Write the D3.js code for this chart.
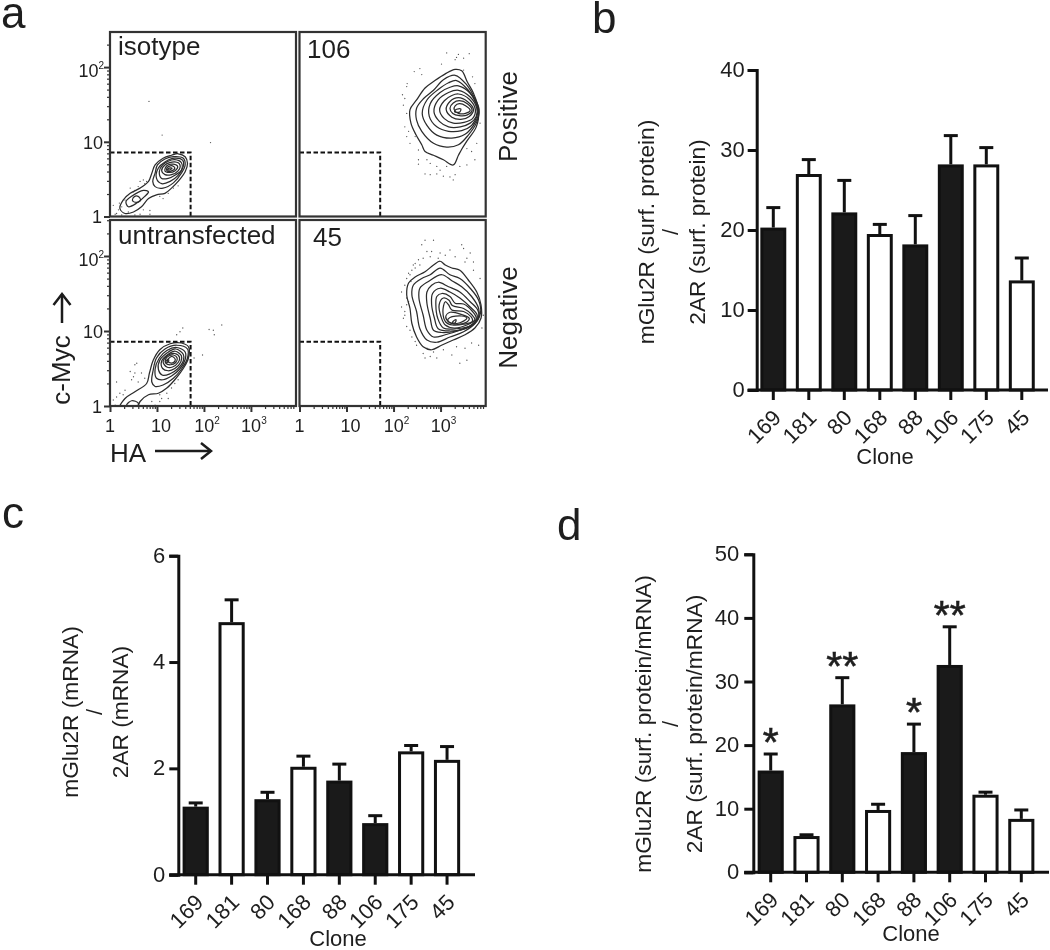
<!DOCTYPE html>
<html>
<head>
<meta charset="utf-8">
<script src="https://cdn.jsdelivr.net/npm/d3@7"></script>
<style>
html,body{margin:0;padding:0;background:#fff;}
svg{display:block;filter:blur(0.35px);}
text{font-family:"Liberation Sans",Arial,sans-serif;fill:#1e1e1e;}
</style>
</head>
<body>
<svg id="chart" width="1050" height="950"></svg>
<script>
// ---------- bar data ----------
const clones = ["169","181","80","168","88","106","175","45"];
const filledClones = ["169","80","88","106"];
const surfaceValues = [20.3,27.0,22.2,19.5,18.2,28.2,28.2,13.7];
const surfaceUpper  = [22.8,28.8,26.2,20.7,21.8,31.8,30.3,16.5];
const mrnaValues = [1.28,4.75,1.42,2.03,1.77,0.97,2.32,2.16];
const mrnaUpper  = [1.35,5.17,1.55,2.23,2.08,1.11,2.43,2.41];
const ratioValues = [16.0,5.7,26.4,9.8,18.9,32.6,12.2,8.4];
const ratioUpper  = [18.6,5.9,30.6,10.7,23.3,38.6,12.6,9.8];
const ratioStars  = ["*","","**","","*","**","",""];

// ---------- flow cytometry data: [log10 HA, log10 c-Myc] ----------
const decades = [1,10,100,1000];
const logTicks = [1,2,3,4,5,6,7,8,9,10,20,30,40,50,60,70,80,90,100,200,300,400,500,600,700,800,900,1000,2000,3000,4000,5000,6000,7000,8000];
const gate = [52,7.2];

const contoursIsotype = [
[[1.45,.84],[1.60,.80],[1.65,.71],[1.60,.60],[1.45,.47],[1.31,.38],[1.17,.31],[.99,.29],[.82,.24],[.67,.13],[.50,.06],[.32,.04],[.21,.11],[.28,.22],[.43,.31],[.64,.38],[.82,.47],[.89,.58],[.96,.69],[1.13,.78],[1.31,.82]],
[[1.35,.80],[1.56,.78],[1.60,.69],[1.52,.58],[1.35,.45],[1.13,.38],[.96,.40],[.91,.47],[.96,.58],[1.01,.69],[1.17,.77]],
[[1.38,.78],[1.55,.75],[1.56,.67],[1.45,.55],[1.28,.47],[1.10,.44],[.99,.51],[1.03,.65],[1.17,.73]],
[[1.38,.76],[1.52,.72],[1.52,.62],[1.40,.56],[1.24,.51],[1.10,.51],[1.05,.60],[1.12,.69],[1.24,.74]],
[[1.38,.73],[1.49,.69],[1.45,.61],[1.31,.56],[1.17,.56],[1.10,.61],[1.17,.69]],
[[1.35,.70],[1.44,.67],[1.38,.61],[1.26,.59],[1.17,.61],[1.21,.68]],
[[1.31,.68],[1.38,.65],[1.31,.61],[1.22,.61],[1.21,.65]],
[[1.28,.65],[1.32,.645],[1.26,.62],[1.22,.63]],
[[.46,.27],[.71,.35],[.82,.33],[.74,.27],[.57,.18],[.39,.13],[.34,.20]],
[[.51,.26],[.60,.27],[.65,.22],[.57,.19],[.48,.21]]
];
const contours106 = [
[[3.31,1.97],[3.45,1.95],[3.57,1.80],[3.70,1.65],[3.81,1.43],[3.76,1.20],[3.57,1.02],[3.45,.90],[3.38,.82],[3.27,.69],[3.06,.76],[2.85,.82],[2.67,.87],[2.60,.96],[2.48,1.09],[2.37,1.25],[2.35,1.43],[2.49,1.56],[2.67,1.72],[2.88,1.82],[3.10,1.91]],
[[3.31,1.89],[3.56,1.76],[3.73,1.58],[3.82,1.43],[3.76,1.25],[3.59,1.09],[3.38,.96],[3.13,.93],[2.85,.98],[2.60,1.14],[2.49,1.29],[2.49,1.45],[2.64,1.58],[2.85,1.69],[3.06,1.83]],
[[3.34,1.82],[3.59,1.69],[3.76,1.51],[3.81,1.40],[3.73,1.25],[3.52,1.10],[3.24,1.05],[2.92,1.09],[2.71,1.22],[2.61,1.38],[2.71,1.56],[2.95,1.70],[3.17,1.79]],
[[3.38,1.75],[3.63,1.65],[3.78,1.47],[3.78,1.36],[3.66,1.22],[3.45,1.15],[3.17,1.14],[2.92,1.20],[2.76,1.34],[2.78,1.51],[2.99,1.66],[3.20,1.73]],
[[3.38,1.69],[3.63,1.60],[3.77,1.45],[3.76,1.34],[3.63,1.25],[3.42,1.20],[3.17,1.20],[2.98,1.27],[2.86,1.40],[2.95,1.56],[3.17,1.66]],
[[3.38,1.64],[3.61,1.57],[3.74,1.43],[3.68,1.31],[3.50,1.26],[3.27,1.25],[3.08,1.31],[2.98,1.43],[3.08,1.55],[3.24,1.62]],
[[3.38,1.59],[3.57,1.54],[3.70,1.43],[3.61,1.34],[3.43,1.30],[3.24,1.33],[3.12,1.43],[3.20,1.54]],
[[3.40,1.55],[3.57,1.51],[3.67,1.42],[3.57,1.36],[3.40,1.35],[3.26,1.38],[3.20,1.45],[3.27,1.52]],
[[3.40,1.51],[3.54,1.48],[3.63,1.42],[3.53,1.38],[3.38,1.38],[3.29,1.43],[3.31,1.48]],
[[3.43,1.44],[3.32,1.43],[3.30,1.40],[3.41,1.40]]
];
const contoursUntransfected = [
[[1.52,.84],[1.67,.79],[1.67,.64],[1.56,.50],[1.38,.35],[1.21,.24],[1.03,.17],[.82,.15],[.64,.06],[.57,-.03],[.21,-.03],[.32,.10],[.53,.19],[.78,.30],[.84,.44],[.92,.61],[1.06,.75],[1.28,.83]],
[[1.42,.81],[1.65,.76],[1.65,.64],[1.52,.49],[1.35,.37],[1.13,.28],[.96,.26],[.89,.32],[.92,.48],[.99,.64],[1.17,.76]],
[[1.42,.78],[1.60,.72],[1.60,.62],[1.48,.49],[1.31,.40],[1.13,.35],[.99,.37],[.96,.49],[1.05,.64],[1.21,.74]],
[[1.40,.76],[1.56,.69],[1.56,.60],[1.43,.49],[1.28,.43],[1.12,.41],[1.03,.49],[1.06,.61],[1.22,.71]],
[[1.39,.73],[1.52,.67],[1.51,.59],[1.38,.50],[1.24,.47],[1.12,.50],[1.10,.60],[1.24,.69]],
[[1.38,.70],[1.48,.65],[1.45,.58],[1.33,.52],[1.21,.52],[1.13,.59],[1.24,.68]],
[[1.35,.68],[1.43,.64],[1.40,.58],[1.29,.55],[1.19,.57],[1.18,.62],[1.26,.67]],
[[1.32,.66],[1.39,.62],[1.35,.58],[1.26,.58],[1.22,.61]],
[[1.24,.62],[1.19,.60],[1.21,.58],[1.25,.60]],
[[.35,.01],[.46,.07],[.60,.04],[.57,-.02],[.35,-.03]]
];
const contours45 = [
[[2.99,1.93],[3.10,1.88],[3.24,1.84],[3.41,1.81],[3.59,1.68],[3.77,1.52],[3.86,1.35],[3.86,1.17],[3.73,1.04],[3.52,.95],[3.27,.88],[3.02,.81],[2.81,.75],[2.63,.79],[2.49,.92],[2.39,1.10],[2.35,1.30],[2.28,1.48],[2.32,1.64],[2.46,1.72],[2.67,1.79],[2.85,1.88]],
[[2.99,1.84],[3.20,1.75],[3.41,1.70],[3.63,1.57],[3.81,1.41],[3.85,1.24],[3.73,1.10],[3.49,.99],[3.20,.92],[2.92,.85],[2.71,.88],[2.56,1.03],[2.49,1.26],[2.39,1.48],[2.42,1.61],[2.60,1.70],[2.78,1.75]],
[[3.03,1.75],[3.24,1.67],[3.45,1.59],[3.66,1.46],[3.81,1.30],[3.81,1.19],[3.66,1.08],[3.41,1.01],[3.10,.95],[2.85,.92],[2.71,1.01],[2.63,1.21],[2.54,1.44],[2.56,1.57],[2.74,1.66]],
[[2.95,1.65],[3.17,1.59],[3.41,1.52],[3.63,1.39],[3.79,1.28],[3.81,1.17],[3.63,1.06],[3.34,1.00],[3.02,.98],[2.85,1.01],[2.78,1.17],[2.71,1.37],[2.71,1.52],[2.81,1.61]],
[[2.99,1.57],[3.20,1.52],[3.41,1.44],[3.63,1.32],[3.78,1.21],[3.72,1.10],[3.49,1.03],[3.20,1.00],[2.95,1.03],[2.87,1.17],[2.81,1.35],[2.83,1.50]],
[[3.03,1.50],[3.20,1.46],[3.31,1.37],[3.49,1.36],[3.68,1.26],[3.76,1.17],[3.63,1.07],[3.34,1.03],[3.06,1.04],[2.94,1.17],[2.90,1.35],[2.92,1.46]],
[[3.06,1.44],[3.18,1.41],[3.25,1.34],[3.49,1.30],[3.66,1.22],[3.73,1.15],[3.56,1.08],[3.29,1.04],[3.10,1.08],[3.01,1.19],[2.97,1.35]],
[[3.10,1.39],[3.17,1.35],[3.24,1.28],[3.49,1.26],[3.65,1.19],[3.68,1.13],[3.49,1.09],[3.25,1.08],[3.11,1.12],[3.05,1.26]],
[[3.20,1.25],[3.45,1.22],[3.61,1.17],[3.56,1.12],[3.34,1.09],[3.18,1.12],[3.11,1.19]],
[[3.20,1.18],[3.45,1.20],[3.56,1.17],[3.41,1.11],[3.24,1.10],[3.15,1.14]],
[[3.33,1.15],[3.27,1.13],[3.25,1.11],[3.31,1.11]]
];
const dotsIsotype = [[.83,1.54],[1.11,1.09],[2.14,.99],[.07,.15],[.14,.04],[.11,.03],[.25,.02],[.32,.0],[.39,.06],[.53,.02],[.64,.03],[.71,.09],[.85,.08],[.85,.03],[.74,.44],[.64,.47],[.60,.40],[.53,.35],[.50,.33],[.35,.27],[.32,.22],[.43,.38],[.71,.49],[.78,.47],[1.24,.31],[1.13,.24],[1.06,.27],[1.35,.38],[1.45,.41],[.20,.18],[.25,.13],[.18,.09]];
const dots106 = [[3.13,2.19],[3.31,2.10],[3.38,2.17],[3.61,2.18],[3.49,2.12],[3.34,2.13],[3.02,2.04],[2.44,1.94],[2.56,1.98],[2.60,1.90],[2.29,1.78],[2.28,1.74],[2.19,1.63],[2.24,1.58],[2.21,1.49],[2.28,1.38],[2.24,1.20],[2.32,1.14],[2.28,1.07],[2.35,.98],[2.53,.89],[2.53,.76],[2.53,.70],[2.71,.76],[2.67,.57],[2.78,.56],[2.92,.57],[3.06,.54],[3.20,.53],[3.27,.49],[3.31,.56],[3.41,.67],[3.56,.69],[3.73,.76],[3.66,.87],[3.56,.91],[3.77,.98],[3.73,1.78],[3.68,1.87],[3.49,1.96],[3.84,1.25],[2.92,.67],[2.78,.71],[2.99,.62],[3.13,.67],[2.46,1.07]];
const dotsUntransfected = [[1.55,1.04],[1.49,.99],[1.42,.95],[2.11,1.02],[2.20,1.01],[2.38,1.08],[2.22,.95],[1.97,.68],[1.79,.64],[.57,.57],[.53,.55],[.53,.44],[.43,.46],[.50,.39],[.46,.35],[.14,.32],[.32,.21],[.21,.17],[.14,.12],[.07,.08],[.11,.01],[.28,.15],[.67,.44],[.74,.37],[.60,.32],[1.06,.15],[1.21,.17],[1.31,.24],[1.38,.30],[1.45,.35],[1.06,.06],[.89,.06],[.96,.01],[1.10,.10],[1.24,.10]];
const dots45 = [[2.67,2.21],[2.85,2.21],[2.60,2.15],[2.71,2.06],[2.81,2.06],[2.99,2.04],[3.20,2.08],[3.45,2.15],[3.49,2.10],[3.63,2.04],[3.56,1.97],[3.70,1.92],[2.42,1.88],[2.53,1.95],[2.63,1.97],[2.32,1.77],[2.39,1.81],[2.46,1.84],[2.56,1.88],[2.78,1.99],[2.95,1.97],[3.10,2.01],[3.31,1.99],[3.52,1.92],[3.70,1.81],[3.84,1.70],[2.17,1.52],[2.24,1.61],[2.28,1.44],[2.17,1.32],[2.24,1.26],[2.21,1.17],[2.28,1.06],[2.35,1.01],[2.46,.86],[2.39,.92],[2.49,.81],[2.63,.70],[2.67,.64],[2.78,.66],[2.92,.64],[3.24,.68],[3.41,.57],[3.56,.61],[3.81,.81],[3.66,.84],[3.88,1.04],[3.91,1.21],[2.32,1.39],[2.28,1.35],[2.24,1.21],[2.35,1.75],[2.28,1.70],[2.37,1.66],[2.46,1.90],[2.71,.77],[2.85,.72],[3.06,.75],[3.34,.79],[3.52,.77]];

// ---------- layout ----------
const svg = d3.select("#chart");
const ink = "#1c1c1c";
const frameInk = "#333";
const xMaxLog = 3.96;

const flowPanels = [
  {id:"iso", x:[110,296], y:[216.5,32], contours:contoursIsotype, dots:dotsIsotype, label:"isotype", lx:118, ly:55, yAxis:true, xAxis:false, yMaxLog:2.47},
  {id:"c106",x:[299.5,485.7], y:[216.5,32], contours:contours106, dots:dots106, label:"106", lx:307, ly:58, yAxis:false, xAxis:false, yMaxLog:2.47},
  {id:"unt", x:[110,296], y:[406,220], contours:contoursUntransfected, dots:dotsUntransfected, label:"untransfected", lx:118, ly:244, yAxis:true, xAxis:true, yMaxLog:2.48},
  {id:"c45", x:[299.5,485.7], y:[406,220], contours:contours45, dots:dots45, label:"45", lx:313, ly:246, yAxis:false, xAxis:true, yMaxLog:2.48}
];

const defs = svg.append("defs");

function decadeLabel(sel, v){
  if (v < 100) { sel.text(String(v)); return; }
  sel.append("tspan").text("10");
  sel.append("tspan").attr("dy",-8).attr("font-size",10).text(String(Math.round(Math.log10(v))));
}

flowPanels.forEach(p => {
  const x = d3.scaleLog().domain([1,Math.pow(10,xMaxLog)]).range(p.x);
  const y = d3.scaleLog().domain([1,Math.pow(10,p.yMaxLog)]).range(p.y);
  const g = svg.append("g");
  defs.append("clipPath").attr("id","clip-"+p.id).append("rect")
    .attr("x",p.x[0]).attr("y",p.y[1]).attr("width",p.x[1]-p.x[0]).attr("height",p.y[0]-p.y[1]);
  const plot = g.append("g").attr("clip-path","url(#clip-"+p.id+")");
  plot.selectAll("circle").data(p.dots).join("circle")
    .attr("cx",d=>x(Math.pow(10,d[0]))).attr("cy",d=>y(Math.pow(10,d[1])))
    .attr("r",0.65).attr("fill","#555");
  const line = d3.line()
    .x(d=>x(Math.pow(10,d[0]))).y(d=>y(Math.pow(10,d[1])))
    .curve(d3.curveCatmullRomClosed.alpha(0.5));
  plot.selectAll("path.contour").data(p.contours).join("path")
    .attr("class","contour").attr("d",line)
    .attr("fill","none").attr("stroke","#2c2c2c").attr("stroke-width",1.25);
  const gatePath = d3.line().x(d=>x(d[0])).y(d=>y(d[1]));
  plot.append("path")
    .attr("d",gatePath([[1,gate[1]],[gate[0],gate[1]],[gate[0],1]]))
    .attr("fill","none").attr("stroke","#111").attr("stroke-width",2).attr("stroke-dasharray","4.5 2.5");
  g.append("rect").attr("x",p.x[0]).attr("y",p.y[1]).attr("width",p.x[1]-p.x[0]).attr("height",p.y[0]-p.y[1])
    .attr("fill","none").attr("stroke",frameInk).attr("stroke-width",2.2);
  g.append("text").attr("x",p.lx).attr("y",p.ly).attr("font-size",26).text(p.label);

  if (p.yAxis) {
    const yTicks = logTicks.filter(v => v <= Math.pow(10,p.yMaxLog));
    const ax = g.append("g").attr("transform","translate("+p.x[0]+",0)")
      .call(d3.axisLeft(y).tickValues(yTicks).tickSize(3).tickFormat(""));
    ax.select(".domain").remove();
    ax.selectAll(".tick line").attr("stroke",frameInk).attr("stroke-width",1.2)
      .filter(d=>decades.includes(d)).attr("x2",-6).attr("stroke-width",2);
    g.selectAll("text.ylab").data(decades.slice(0,3)).join("text").attr("class","ylab")
      .attr("x",d=>d===1?102:(d===10?103:104)).attr("y",d=>y(d)+(d===100?9.5:(d===10?7:6.5)))
      .attr("text-anchor","end").attr("font-size",18)
      .each(function(d){decadeLabel(d3.select(this),d);});
  }
  if (p.xAxis) {
    const ax = g.append("g").attr("transform","translate(0,"+p.y[0]+")")
      .call(d3.axisBottom(x).tickValues(logTicks).tickSize(3).tickFormat(""));
    ax.select(".domain").remove();
    ax.selectAll(".tick line").attr("stroke",frameInk).attr("stroke-width",1.2)
      .filter(d=>decades.includes(d)).attr("y2",6).attr("stroke-width",2);
    g.selectAll("text.xlab").data(decades).join("text").attr("class","xlab")
      .attr("x",d=>x(d)+(d===1?0:(d===10?4:3))).attr("y",432)
      .attr("text-anchor","middle").attr("font-size",18)
      .each(function(d){decadeLabel(d3.select(this),d);});
  }
});

// ---------- side and axis titles of panel a ----------
function rotatedText(x,y,txt,size){
  return svg.append("text").attr("transform","translate("+x+","+y+") rotate(-90)")
    .attr("text-anchor","middle").attr("font-size",size).text(txt);
}
rotatedText(517,116.5,"Positive",26);
rotatedText(517,317.5,"Negative",26);
rotatedText(70,370,"c-Myc",26);
svg.append("text").attr("x",110).attr("y",462).attr("font-size",26).text("HA");
const arrowLine = d3.line();
svg.append("path").attr("d",arrowLine([[62,323],[62,294]])).attr("fill","none").attr("stroke",ink).attr("stroke-width",2.5);
svg.append("path").attr("d",arrowLine([[53.5,305],[62,294],[70.5,305]])).attr("fill","none").attr("stroke",ink).attr("stroke-width",2.5);
svg.append("path").attr("d",arrowLine([[155,451],[211,451]])).attr("fill","none").attr("stroke",ink).attr("stroke-width",2.5);
svg.append("path").attr("d",arrowLine([[201,443],[211,451],[201,459]])).attr("fill","none").attr("stroke",ink).attr("stroke-width",2.5);

// ---------- panel letters ----------
const panelLetters = [["a",1,28],["b",592,33],["c",2,528],["d",557,540]];
svg.selectAll("text.letter").data(panelLetters).join("text").attr("class","letter")
  .attr("x",d=>d[1]).attr("y",d=>d[2]).attr("font-size",44).text(d=>d[0]);

// ---------- bar panels ----------
function barPanel(o){
  const g = svg.append("g");
  const x = d3.scaleBand().domain(clones).range(o.xr).paddingInner(0.354).paddingOuter(0.177);
  const y = d3.scaleLinear().domain(o.dom).range(o.yr);
  clones.forEach((c,i)=>{
    const cx = x(c)+x.bandwidth()/2;
    g.append("path").attr("d",d3.line()([[cx,y(o.vals[i])],[cx,y(o.up[i])]])).attr("stroke","#111").attr("stroke-width",3).attr("fill","none");
    g.append("path").attr("d",d3.line()([[cx-7,y(o.up[i])],[cx+7,y(o.up[i])]])).attr("stroke","#111").attr("stroke-width",3).attr("fill","none");
    g.append("rect").attr("x",x(c)).attr("y",y(o.vals[i])+1.5).attr("width",x.bandwidth()).attr("height",y(0)-y(o.vals[i])-1.5)
      .attr("fill",filledClones.includes(c)?"#1a1a1a":"#fff").attr("stroke","#111").attr("stroke-width",3);
  });
  const ya = g.append("g").attr("transform","translate("+o.ax+",0)")
    .call(d3.axisLeft(y).tickValues(o.ticks).tickSize(9).tickPadding(o.pad).tickFormat(d3.format("d")));
  ya.select(".domain").attr("stroke","#111").attr("stroke-width",3);
  ya.selectAll(".tick line").attr("stroke","#111").attr("stroke-width",3);
  ya.selectAll(".tick text").attr("font-size",22).attr("fill","#1e1e1e").attr("font-family",'"Liberation Sans"').attr("dy","0.3em");
  const xa = g.append("g").attr("transform","translate(0,"+o.yr[0]+")")
    .call(d3.axisBottom(x).tickSize(10).tickPadding(0));
  xa.select(".domain").remove();
  xa.selectAll(".tick line").attr("stroke","#111").attr("stroke-width",3);
  xa.selectAll(".tick text").attr("font-size",22).attr("fill","#1e1e1e").attr("font-family",'"Liberation Sans"')
    .attr("text-anchor","end").attr("dy",0).attr("y",0)
    .attr("transform","translate(9,29) rotate(-45)");
  g.append("path").attr("d",d3.line()([[o.ax-9,o.yr[0]],[o.xEnd,o.yr[0]]])).attr("stroke","#111").attr("stroke-width",3);
  g.append("text").attr("x",o.cloneX).attr("y",o.cloneY).attr("text-anchor","middle").attr("font-size",22).text("Clone");
  rotatedText(o.l1x,o.ly,o.l1,22.7);
  rotatedText(o.l2x,o.ly,o.l2,22.7);
  g.append("text").attr("transform","translate("+o.sx+","+o.ly+") rotate(-90)").attr("text-anchor","middle").attr("dy","0.35em").attr("font-size",22).text("/");
  if (o.stars) {
    g.selectAll("text.star").data(clones).join("text").attr("class","star")
      .attr("x",d=>x(d)+x.bandwidth()/2)
      .attr("y",(d,i)=>y(o.up[i])+2)
      .attr("text-anchor","middle").attr("font-size",41)
      .attr("stroke","#1e1e1e").attr("stroke-width",0.6)
      .text((d,i)=>o.stars[i]);
  }
}
barPanel({xr:[755.55,1039.55],yr:[390,70],dom:[0,40],ticks:[0,10,20,30,40],vals:surfaceValues,up:surfaceUpper,ax:756.7,xEnd:1048,pad:3,
  cloneX:885,cloneY:464,l1:"mGlu2R (surf. protein)",l2:"2AR (surf. protein)",l1x:654,l2x:705,ly:232,sx:670});
barPanel({xr:[177.75,465],yr:[874.7,555.7],dom:[0,6],ticks:[0,2,4,6],vals:mrnaValues,up:mrnaUpper,ax:178.3,xEnd:475,pad:4,
  cloneX:338,cloneY:945.5,l1:"mGlu2R (mRNA)",l2:"2AR (mRNA)",l1x:78,l2x:128,ly:712,sx:94});
barPanel({xr:[752.8,1039.2],yr:[872.3,554.3],dom:[0,50],ticks:[0,10,20,30,40,50],vals:ratioValues,up:ratioUpper,ax:753.3,xEnd:1049,pad:5,
  cloneX:911,cloneY:941,l1:"mGlu2R (surf. protein/mRNA)",l2:"2AR (surf. protein/mRNA)",l1x:651,l2x:702,ly:724,sx:670,stars:ratioStars});
</script>
</body>
</html>
